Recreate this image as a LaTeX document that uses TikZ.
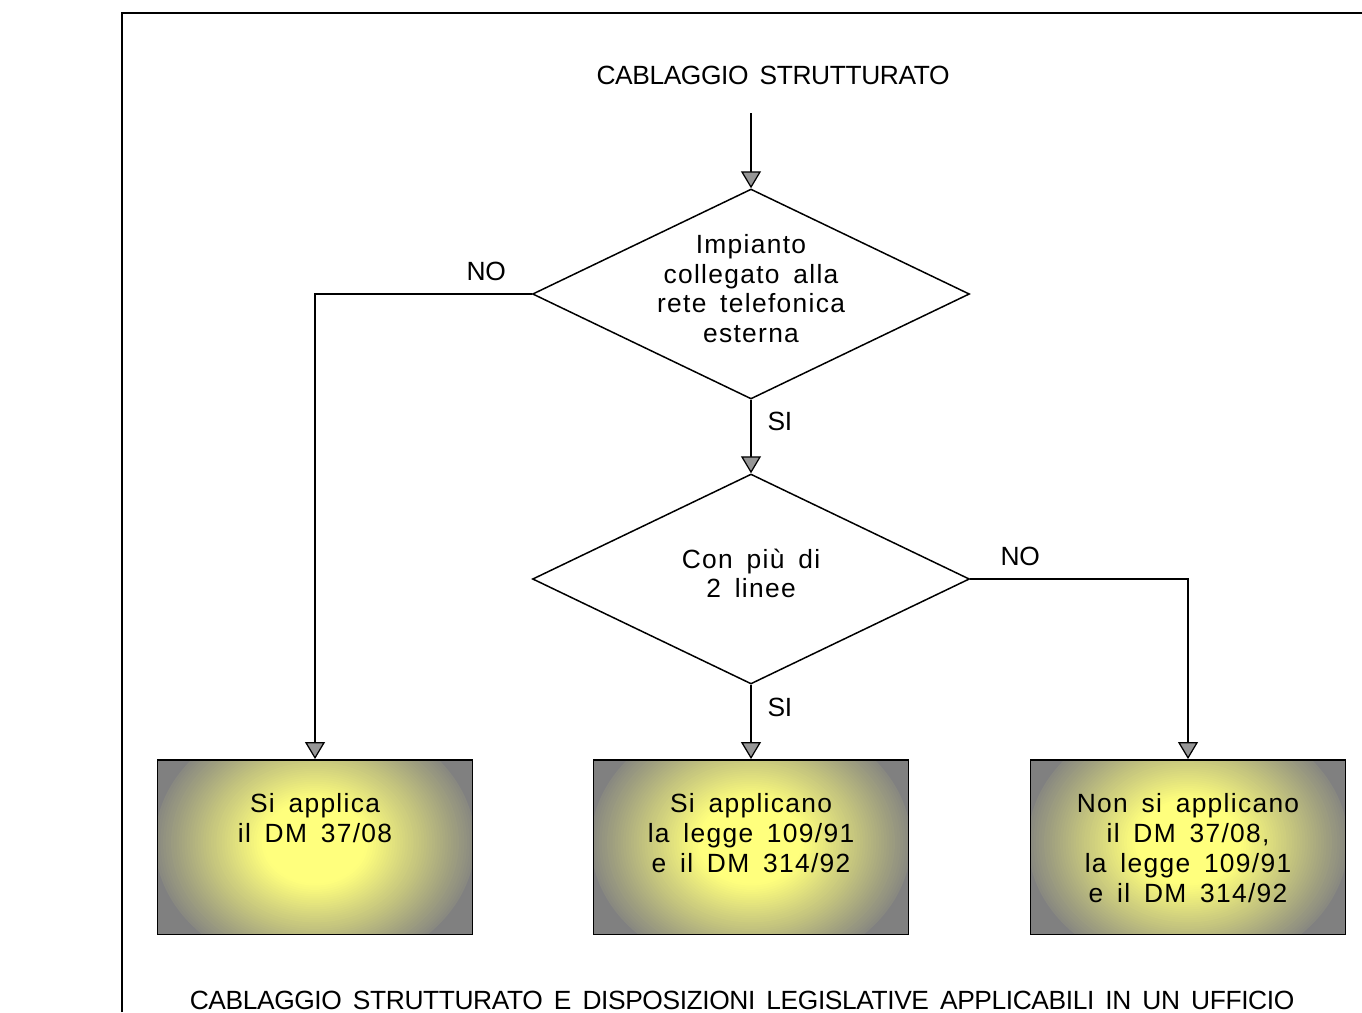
\documentclass[tikz,border=0pt]{standalone}
\usepackage{fontspec}
\setmainfont{Liberation Sans}[WordSpace=1.6]
\usetikzlibrary{positioning,arrows.meta,shapes.geometric}
\definecolor{glowyellow}{RGB}{255,255,125}
\definecolor{glowgray}{RGB}{128,128,128}
\definecolor{tipgray}{RGB}{150,150,150}
\tikzset{
  decision/.style = {shape=diamond, draw, align=center, inner sep=0pt,
                     shape aspect=2.08, minimum width=8.74cm, minimum height=4.2cm},
  outcome/.style  = {shape=rectangle, draw, inner sep=0pt,
                     path picture={
                       \fill[glowgray] (path picture bounding box.south west) rectangle
                                       (path picture bounding box.north east);
                       \foreach \k in {60,59,...,1}{
                         \pgfmathsetmacro\glow{min(100,100*(1.05-\k/60)/0.72)}
                         \fill[glowyellow!\glow!glowgray] ([yshift=0.1cm]path picture bounding box.center)
                           ellipse [x radius=3.2cm*\k/60, y radius=2.6cm*\k/60];
                       }}},
  answer/.style   = {font=\fontsize{15}{17}\selectfont\addfontfeature{LetterSpace=5}},
  caps/.style     = {font=\fontsize{15}{17}\selectfont\addfontfeature{LetterSpace=-1.5}},
  reply/.style    = {caps, inner sep=0pt}
}
\newcommand{\outtext}[1]{\parbox[c][3.5cm][t]{6.3cm}{\centering\vspace*{0.68cm}#1}}
\newcommand{\asktext}[1]{\raisebox{0.04cm}[\height][\depth]{\begin{tabular}{@{}c@{}}#1\end{tabular}}}

\begin{document}
\begin{tikzpicture}[x=0.02cm, y=-0.02cm, line width=0.85pt, ->,
   >={Triangle[width=0.4cm, length=0.34cm, fill=tipgray, line width=0.7pt]}]
\useasboundingbox (0,0) rectangle (1362,1012);
% frame
\draw[-, line width=1.1pt] (122,1012) -- (122,13) -- (1362,13);

\node [caps] (title) at (773,75) {CABLAGGIO STRUTTURATO};
\coordinate (start) at (751,113);
\node [decision, answer] (phone) at (751,294) {\asktext{Impianto\\collegato alla\\rete telefonica\\esterna}};
\node [decision, answer] (lines) at (751,579) {\asktext{Con più di\\2 linee}};
\node [outcome, answer, anchor=north] (dm) at (315,759) {\outtext{Si applica\\il DM 37/08}};
\node [outcome, answer, anchor=north] (law) at (751,759) {\outtext{Si applicano\\la legge 109/91\\e il DM 314/92}};
\node [outcome, answer, anchor=north] (none) at (1188,759) {\outtext{Non si applicano\\il DM 37/08,\\la legge 109/91\\e il DM 314/92}};

\draw (start) -- (phone.north);
\draw (phone.west) -| node [reply, pos=0.105, above=7pt] {NO} (dm.north);
\draw (phone.south) -- node [reply, pos=0.3, right=9pt] {SI} (lines.north);
\draw (lines.east) -| node [reply, pos=0.115, above=7pt] {NO} (none.north);
\draw (lines.south) -- node [reply, pos=0.31, right=9pt] {SI} (law.north);

\node [caps] (caption) at (742,1000) {CABLAGGIO STRUTTURATO E DISPOSIZIONI LEGISLATIVE APPLICABILI IN UN UFFICIO};
\end{tikzpicture}
\end{document}
